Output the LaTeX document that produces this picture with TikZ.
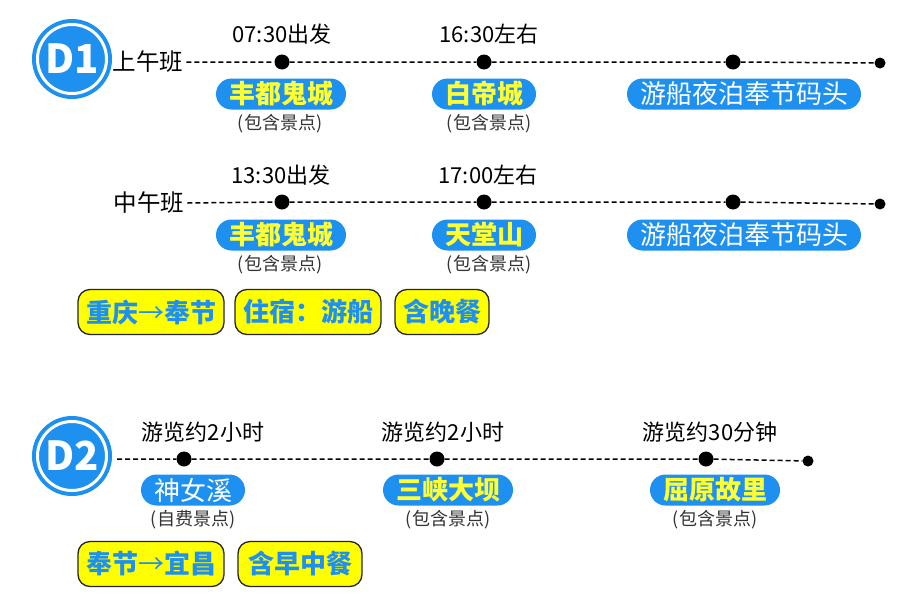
\documentclass[tikz,border=0pt]{standalone}
\usepackage{fontspec}
\setmainfont{Noto Sans CJK SC}
\definecolor{pblue}{HTML}{1E90F0}
\definecolor{pyel}{HTML}{FFFF33}
\definecolor{tyel}{HTML}{FFFF00}
\tikzset{
  pill/.style={fill=pblue, rounded corners=15.5pt, minimum height=31pt, inner xsep=13pt, inner ysep=0pt, text=pyel, font=\fontsize{26}{26}\selectfont\bfseries},
  pillw/.style={pill, text=white, font=\fontsize{26}{26}\selectfont},
  tagbox/.style={draw=black!85, line width=1.3pt, fill=tyel, rounded corners=12pt, minimum height=45pt, inner xsep=8pt, inner ysep=0pt, text=pblue, font=\fontsize{26}{26}\selectfont\bfseries},
  lbl/.style={font=\fontsize{22}{22}\selectfont, inner sep=2pt},
  rowlbl/.style={font=\fontsize{23.5}{23.5}\selectfont, inner sep=3pt},
  sublbl/.style={font=\fontsize{18}{18}\selectfont, text=black!80},
  bigdot/.style={circle, fill=black, inner sep=0pt, minimum size=15pt},
  enddot/.style={circle, fill=black, inner sep=0pt, minimum size=11pt},
  dline/.style={dash pattern=on 5pt off 3pt, line width=1.5pt},
  badge/.style={circle, fill=pblue, minimum size=80pt, inner sep=0pt},
  badgetxt/.style={text=white, font=\bfseries\fontsize{40}{40}\selectfont},
}
\begin{document}
\begin{tikzpicture}[x=1pt,y=-1pt]
\useasboundingbox (0,0) rectangle (900,600);
\fill[white] (0,0) rectangle (900,600);

% ---------- D1 badge ----------
\node[badge] (d1) at (72,59) {};
\draw[white, line width=3pt] (d1.center) circle (34.5pt);
\node[badgetxt] (d1t) at (d1.center) {D1};

% ---------- Row 1 (上午班) ----------
\node[rowlbl] (am) at (148,62) {上午班};
\node[bigdot] (a1) at (282,62) {};
\node[bigdot] (a2) at (484,62) {};
\node[bigdot] (a3) at (733,62) {};
\node[enddot] (a4) at (880,63) {};
\draw[dline] (am.east) -- (a1) -- (a2) -- (a3) -- (a4);
\node[lbl] (at1) at (282,34) {07:30出发};
\node[lbl] (at2) at (489,34) {16:30左右};
\node[pill] (ap1) at (281,94) {丰都鬼城};
\node[pill] (ap2) at (484,94) {白帝城};
\node[pillw] (ap3) at (744,94) {游船夜泊奉节码头};
\node[sublbl] (as1) at (280,124) {(包含景点)};
\node[sublbl] (as2) at (489,124) {(包含景点)};

% ---------- Row 2 (中午班) ----------
\node[rowlbl] (noon) at (149,203) {中午班};
\node[bigdot] (b1) at (282,202) {};
\node[bigdot] (b2) at (484,202) {};
\node[bigdot] (b3) at (733,202) {};
\node[enddot] (b4) at (880,204) {};
\draw[dline] (noon.east) -- (b1) -- (b2) -- (b3) -- (b4);
\node[lbl] (bt1) at (281,175) {13:30出发};
\node[lbl] (bt2) at (488,175) {17:00左右};
\node[pill] (bp1) at (281,235) {丰都鬼城};
\node[pill] (bp2) at (484,235) {天堂山};
\node[pillw] (bp3) at (744,235) {游船夜泊奉节码头};
\node[sublbl] (bs1) at (280,265) {(包含景点)};
\node[sublbl] (bs2) at (489,265) {(包含景点)};

% ---------- D1 tags ----------
\node[tagbox] (t1) at (151,312) {重庆{\mdseries →}奉节};
\node[tagbox] (t2) at (308,312) {住宿：游船};
\node[tagbox] (t3) at (442,312) {含晚餐};

% ---------- D2 badge ----------
\node[badge] (d2) at (72,456) {};
\draw[white, line width=3pt] (d2.center) circle (34.5pt);
\node[badgetxt] (d2t) at (d2.center) {D2};

% ---------- D2 row ----------
\coordinate (c0) at (117,459);
\node[bigdot] (c1) at (184,459) {};
\node[bigdot] (c2) at (437,459) {};
\node[bigdot] (c3) at (706,459) {};
\node[enddot] (c4) at (808,461) {};
\draw[dline] (c0) -- (c1) -- (c2) -- (c3) -- (c4);
\node[lbl] (ct1) at (203,432) {游览约2小时};
\node[lbl] (ct2) at (443,432) {游览约2小时};
\node[lbl] (ct3) at (710,432) {游览约30分钟};
\node[pillw] (cp1) at (193,490) {神女溪};
\node[pill] (cp2) at (448,490) {三峡大坝};
\node[pill] (cp3) at (715,490) {屈原故里};
\node[sublbl] (cs1) at (193,520) {(自费景点)};
\node[sublbl] (cs2) at (448,520) {(包含景点)};
\node[sublbl] (cs3) at (715,520) {(包含景点)};

% ---------- D2 tags ----------
\node[tagbox] (u1) at (151,564) {奉节{\mdseries →}宜昌};
\node[tagbox, inner xsep=10pt] (u2) at (300,564) {含早中餐};
\end{tikzpicture}
\end{document}
